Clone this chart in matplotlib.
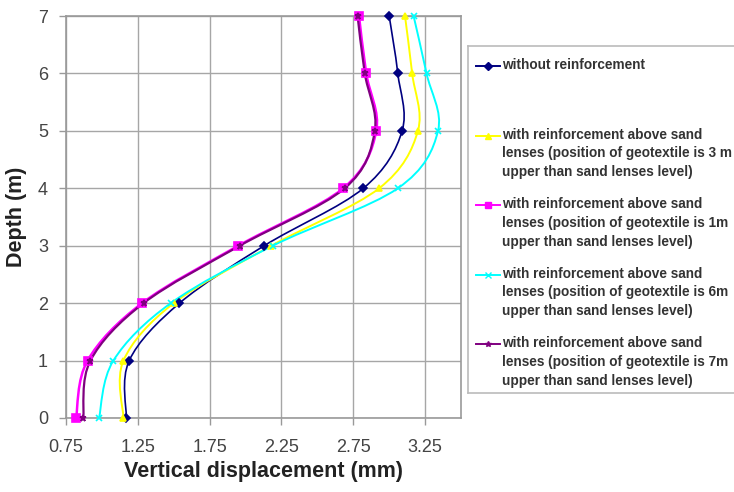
import numpy as np
import matplotlib as mpl
import matplotlib.pyplot as plt
from matplotlib.path import Path
from matplotlib.patches import PathPatch
from matplotlib.lines import Line2D

mpl.use("Agg")

# depth levels (m)
depth = [0, 1, 2, 3, 4, 5, 6, 7]

# vertical displacement (mm) for each case
no_reinf = [1.17, 1.19, 1.54, 2.13, 2.82, 3.09, 3.06, 3.00]
reinf_3m = [1.15, 1.15, 1.50, 2.18, 2.93, 3.20, 3.16, 3.11]
reinf_1m = [0.82, 0.90, 1.28, 1.95, 2.68, 2.91, 2.84, 2.79]
reinf_6m = [0.98, 1.08, 1.48, 2.19, 3.06, 3.34, 3.26, 3.17]
reinf_7m = [0.87, 0.92, 1.29, 1.96, 2.69, 2.90, 2.83, 2.78]

labels = [
    "without reinforcement",
    "with reinforcement above sand\nlenses (position of geotextile is 3 m\nupper than sand lenses level)",
    "with reinforcement above sand\nlenses (position of geotextile is 1m\nupper than sand lenses level)",
    "with reinforcement above sand\nlenses (position of geotextile is 6m\nupper than sand lenses level)",
    "with reinforcement above sand\nlenses (position of geotextile is 7m\nupper than sand lenses level)",
]
series = [no_reinf, reinf_3m, reinf_1m, reinf_6m, reinf_7m]
colors = ["#000080", "#FFFF00", "#FF00FF", "#00FFFF", "#800080"]
markers = ["D", "^", "s", "x", "*"]
msizes = [4, 5, 6, 5, 5]
lwidths = [1.2, 1.4, 1.8, 1.4, 1.6]

xticks = [0.75, 1.25, 1.75, 2.25, 2.75, 3.25]

plt.rcParams["font.family"] = ["Liberation Sans", "DejaVu Sans"]


def smooth_path(xs, ys):
    # Excel-like smoothed line: Catmull-Rom converted to cubic Bezier
    pts = np.column_stack([xs, ys]).astype(float)
    n = len(pts)
    verts = [pts[0]]
    codes = [Path.MOVETO]
    for i in range(n - 1):
        p0 = pts[max(i - 1, 0)]
        p1 = pts[i]
        p2 = pts[i + 1]
        p3 = pts[min(i + 2, n - 1)]
        c1 = p1 + (p2 - p0) / 6.0
        c2 = p2 - (p3 - p1) / 6.0
        verts += [c1, c2, p2]
        codes += [Path.CURVE4] * 3
    return Path(verts, codes)


fig = plt.figure(figsize=(7.34, 4.92), dpi=100)
ax = fig.add_axes([66 / 734, 74 / 492, 395 / 734, 402 / 492])

for vals, c, m, ms, lw in zip(series, colors, markers, msizes, lwidths):
    ax.add_patch(PathPatch(smooth_path(vals, depth), facecolor="none",
                           edgecolor=c, lw=lw, zorder=3))
    ax.plot(vals, depth, linestyle="none", marker=m, color=c, ms=ms,
            markeredgewidth=1.2, zorder=4, clip_on=False)

ax.set_xlim(0.75, 3.5)
ax.set_ylim(0, 7)
ax.set_xticks(xticks)
ax.set_xticklabels([f"{t:.2f}" for t in xticks])
ax.set_yticks(depth)
ax.grid(True, color="#A6A6A6", lw=1.0)
ax.set_axisbelow(True)
for s in ax.spines.values():
    s.set_color("#999999")
    s.set_linewidth(1.2)
ax.tick_params(colors="#999999", labelcolor="#444444", labelsize=13,
               length=5, width=1)
ax.tick_params(axis="x", pad=10)
ax.tick_params(axis="y", pad=8)

ax.set_xlabel("Vertical displacement (mm)", fontsize=15.5, fontweight="bold",
              color="#222222", labelpad=4)
ax.set_ylabel("Depth (m)", fontsize=15.5, fontweight="bold",
              color="#222222", labelpad=8)

# legend drawn in its own box, handle aligned with first text line
lax = fig.add_axes([468 / 734, 99 / 492, 270 / 734, 347 / 492])
lax.set_xlim(0, 270)
lax.set_ylim(347, 0)
lax.set_xticks([])
lax.set_yticks([])
for s in lax.spines.values():
    s.set_color("#BBBBBB")
    s.set_linewidth(1.2)

for i, (lab, c, m) in enumerate(zip(labels, colors, markers)):
    y = 20 + i * 69.5
    lax.add_line(Line2D([8, 32], [y, y], color=c, lw=1.4))
    lax.plot([20], [y], marker=m, color=c, ms=4)
    lax.text(34, y - 8, lab, fontsize=9.8, fontweight="bold",
             color="#333333", va="top", ha="left", linespacing=1.45)

fig.savefig("out.png", dpi=100)
